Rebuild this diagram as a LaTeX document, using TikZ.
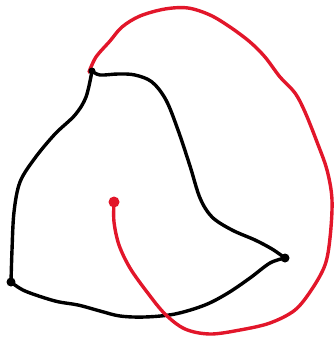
\documentclass[tikz,border=0pt]{standalone}
\definecolor{inkred}{RGB}{226,22,42}
\begin{document}
\begin{tikzpicture}[x=1pt,y=-1pt,
  blackline/.style={line width=3.4pt,line cap=round,line join=round,black},
  redline/.style={line width=3.4pt,line cap=round,line join=round,inkred},
  blackdot/.style={fill=black},
  reddot/.style={fill=inkred}]
\useasboundingbox (0,0) rectangle (336,337);
\coordinate (top) at (92,71);
\coordinate (right) at (285,258);
\coordinate (left) at (11,282);
\coordinate (start) at (114,202);
% black curves
\draw[blackline] plot[smooth,tension=0.55] coordinates {(top) (100,75) (118,74) (135,75) (152,82) (166,100) (178,130) (190,166) (200,198) (212,217) (232,230) (255,240) (272,249) (right)};
\draw[blackline] plot[smooth,tension=0.55] coordinates {(right) (270,263) (250,278) (228,293) (205,305) (175,314) (145,317) (120,316) (100,311) (78,305) (55,301) (25,291) (left)};
\draw[blackline] plot[smooth,tension=0.55] coordinates {(left) (12,250) (14,212) (20,182) (35,158) (55,134) (75,115) (86,97) (top)};
% red curve
\draw[redline] plot[smooth,tension=0.55] coordinates {(start) (114,222) (119,245) (130,268) (147,292) (165,314) (185,329) (210,334) (240,330) (270,323) (295,310) (312,289) (325,265) (330,238) (332,200) (327,170) (317,142) (305,112) (295,93) (280,77) (265,57) (250,42) (230,27) (210,15) (188,8) (165,9) (140,16) (122,27) (110,41) (96,57) (89,72)};
% dots
\fill[blackdot] (top) circle (3.5);
\fill[blackdot] (right) circle (4.5);
\fill[blackdot] (left) circle (4.5);
\fill[reddot] (start) circle (5.5);
\end{tikzpicture}
\end{document}
